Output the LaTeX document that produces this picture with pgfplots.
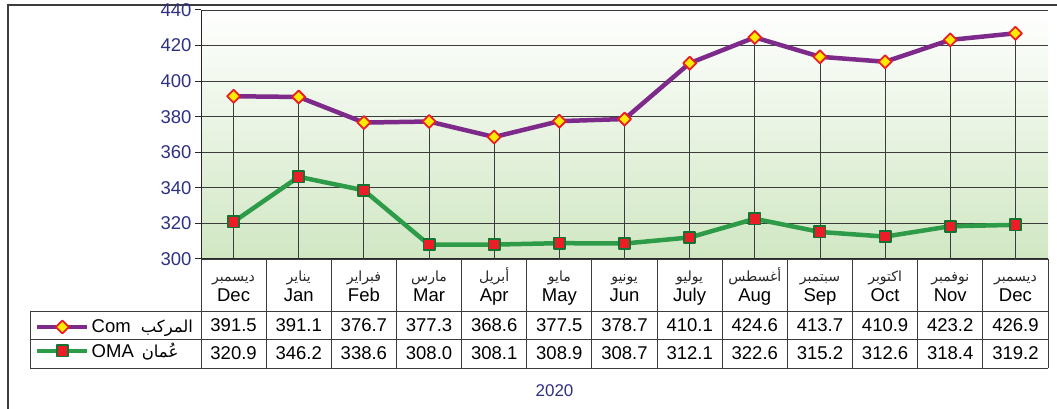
\documentclass[border=0pt]{standalone}
\usepackage{fontspec}
\setmainfont{Liberation Sans}
\newfontfamily\arabicfont[Script=Arabic]{DejaVu Sans}
\usepackage{pgfplots}
\usepackage{pgfplotstable}
\pgfplotsset{compat=1.18}
\TeXXeTstate=1

\definecolor{purp}{RGB}{125,42,138}
\definecolor{grn}{RGB}{46,155,72}
\definecolor{dgrn}{RGB}{20,115,50}
\definecolor{mred}{RGB}{235,30,40}
\definecolor{myel}{RGB}{250,235,0}
\definecolor{navy}{RGB}{46,49,128}
\definecolor{bggreen}{RGB}{208,231,195}
\definecolor{gridgray}{RGB}{60,60,60}
\definecolor{framegray}{RGB}{60,60,60}

\pgfplotstableread{
x com oma
0 391.5 320.9
1 391.1 346.2
2 376.7 338.6
3 377.3 308.0
4 368.6 308.1
5 377.5 308.9
6 378.7 308.7
7 410.1 312.1
8 424.6 322.6
9 413.7 315.2
10 410.9 312.6
11 423.2 318.4
12 426.9 319.2
}\data

\newcommand{\AR}[1]{{\arabicfont\beginR #1\endR}}
\newcommand{\numfont}{\fontsize{18.5}{20}\selectfont}
\newcommand{\arfont}{\fontsize{14}{16}\selectfont}

\begin{document}
\begin{tikzpicture}
\path[use as bounding box] (0,0) rectangle (1057pt,409pt);
\draw[line width=1.5pt, color=framegray] (8pt,-2pt) -- (8pt,404pt) -- (1060pt,404pt);
\begin{axis}[
  at={(201pt,150pt)}, anchor=south west,
  scale only axis, width=847pt, height=249pt,
  xmin=-0.5, xmax=12.5, ymin=300, ymax=440,
  xtick=\empty, ytick={300,320,...,440},
  axis y line*=left, axis x line*=bottom,
  axis line style={-, line width=1pt, color=black!85},
  ymajorgrids, grid style={line width=0.9pt, color=gridgray},
  tick style={line width=1pt, color=black!85},
  tick align=outside, major tick length=6pt,
  yticklabel style={font=\numfont, color=navy},
  /pgf/number format/assume math mode=true,
  axis background/.style={top color=white, bottom color=bggreen},
  legend style={at={(axis description cs:-0.19598,-0.3223)}, anchor=west,
    draw=none, fill=none, inner sep=0pt, font=\numfont, row sep=5pt},
  legend cell align=left,
  legend image code/.code={\draw[#1, mark repeat=2, mark phase=2] plot coordinates {(0pt,0pt) (25pt,0pt) (50pt,0pt)};},
]
\addplot[ycomb, draw=gridgray, line width=0.9pt, forget plot] table[x=x,y=com]{\data};
\addplot[color=purp, line width=4.5pt, line join=round, mark=square*, mark size=4.6pt,
  mark options={rotate=45, fill=myel, draw=mred, line width=1.8pt}] table[x=x,y=com]{\data};
\addlegendentry{Com\hspace{10pt}{\fontsize{16.5}{17}\selectfont\AR{المركب}}}
\addplot[color=grn, line width=4.5pt, line join=round, mark=square*, mark size=5.6pt,
  mark options={fill=mred, draw=dgrn, line width=1.8pt}] table[x=x,y=oma]{\data};
\addlegendentry{OMA\hspace{8pt}{\fontsize{16.5}{17}\selectfont\AR{عُمان}}}
\end{axis}
% table
\begin{scope}[line width=0.9pt, color=gridgray]
\foreach \k in {0,...,13} \draw ({201pt+65.1538pt*\k},150pt) -- ({201pt+65.1538pt*\k},41pt);
\draw (30pt,98pt) -- (1048pt,98pt);
\draw (30pt,70pt) -- (1048pt,70pt);
\draw (30pt,41pt) -- (1048pt,41pt);
\draw (30pt,98pt) -- (30pt,41pt);
\end{scope}
\foreach \k/\en/\ar in {0/Dec/ديسمبر,1/Jan/يناير,2/Feb/فبراير,3/Mar/مارس,4/Apr/أبريل,5/May/مايو,6/Jun/يونيو,7/July/يوليو,8/Aug/أغسطس,9/Sep/سبتمبر,10/Oct/اكتوبر,11/Nov/نوفمبر,12/Dec/ديسمبر}{
  \node[anchor=base, inner sep=0pt, font=\numfont] at ({201pt+65.1538pt*(\k+0.5)},107pt) {\en};
  \node[anchor=base, inner sep=0pt, font=\arfont, color=black!85] at ({201pt+65.1538pt*(\k+0.5)},127pt) {\AR{\ar}};
  \pgfplotstablegetelem{\k}{com}\of\data
  \node[anchor=base, inner sep=0pt, font=\numfont] at ({201pt+65.1538pt*(\k+0.5)},77pt) {\pgfplotsretval};
  \pgfplotstablegetelem{\k}{oma}\of\data
  \node[anchor=base, inner sep=0pt, font=\numfont] at ({201pt+65.1538pt*(\k+0.5)},49pt) {\pgfplotsretval};
}
\node[font=\fontsize{17}{20}\selectfont, color=navy] at (554.5pt,18pt) {2020};
\end{tikzpicture}
\end{document}
